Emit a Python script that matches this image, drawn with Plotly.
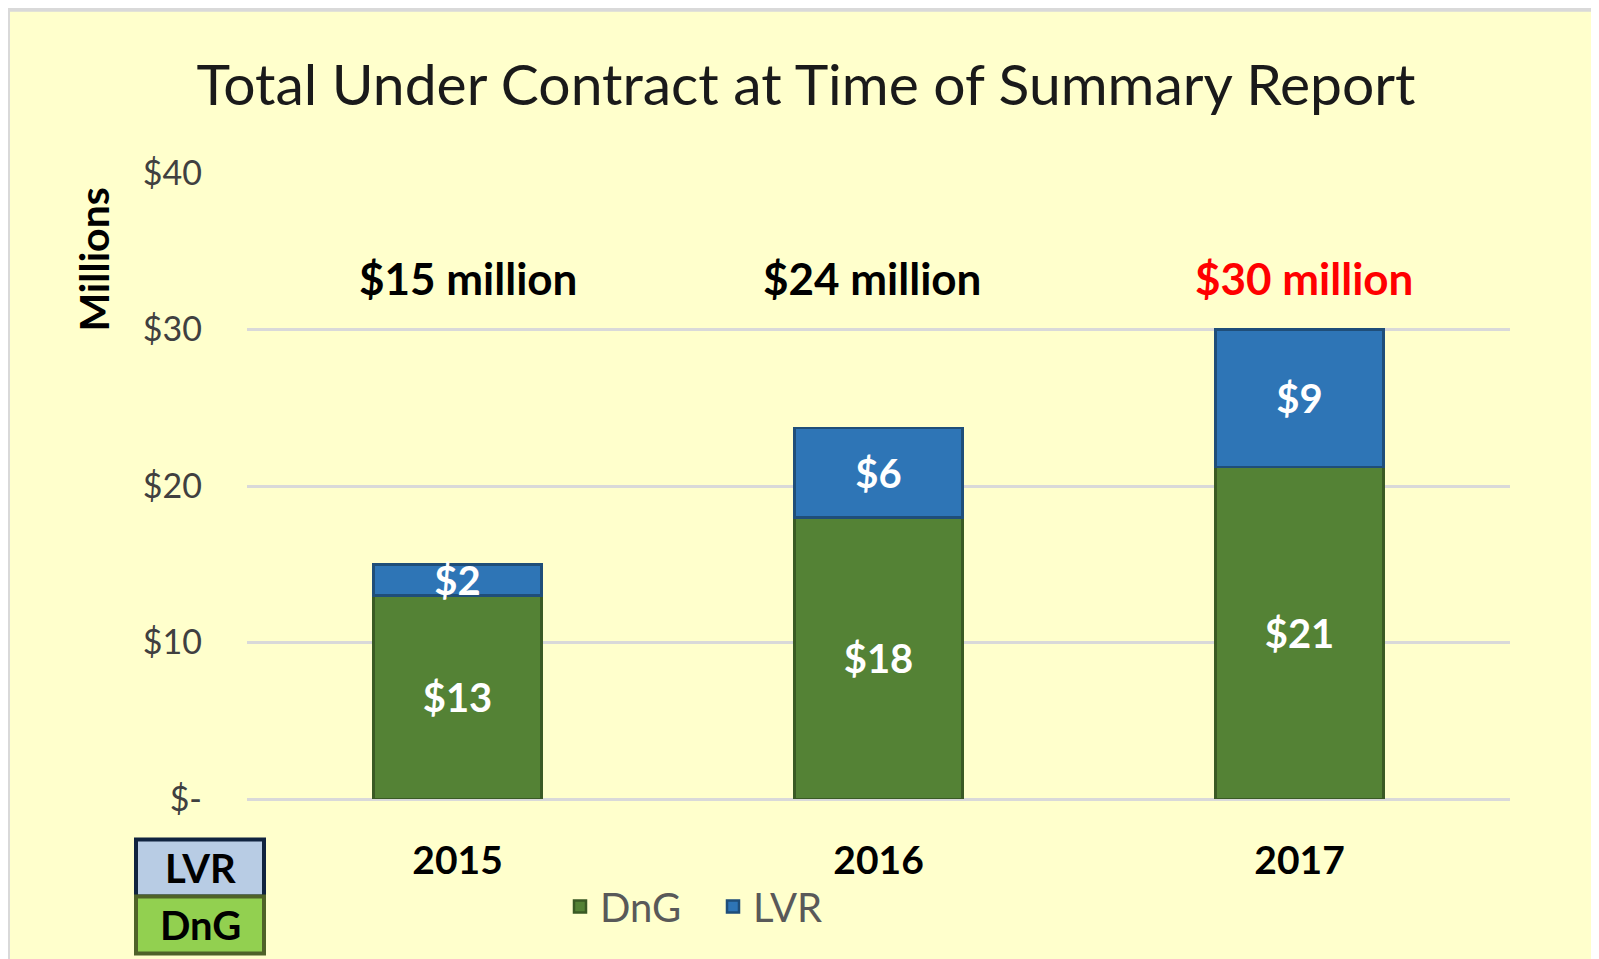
import plotly.graph_objects as go

years = ["2015", "2016", "2017"]
dng = [13.0, 18.0, 21.2]
lvr = [2.0, 5.7, 8.8]
ytick_vals = [0, 10, 20, 30, 40]
ytick_text = ["$-", "$10", "$20", "$30", "$40"]

# page body has an 8px margin; figure sized to fit the window
OFF = 8
W_PX, H_PX = 1599 - OFF, 959 - OFF
# plot area in page pixels
PL, PR, PT, PB = 247, 1510, 173.4, 799.5
L = PL - OFF
T = PT - OFF
R = W_PX - (PR - OFF)
B = H_PX - (PB - OFF)
PW = PR - PL
PH = PB - PT


def px(x):
    return (x - PL) / PW


def py(y):
    return (PB - y) / PH


FONT = "Lato"
GREEN = "#548235"
BLUE = "#2E75B6"

fig = go.Figure()
fig.add_trace(go.Bar(
    x=years, y=dng, name="DnG",
    marker=dict(color=GREEN, line=dict(color="#3A5A24", width=2.5)),
    texttemplate="$%{y:.0f}", textposition="inside", insidetextanchor="middle",
    textangle=0,
    textfont=dict(family=FONT, size=40, color="white", weight="bold"),
))
fig.add_trace(go.Bar(
    x=years, y=lvr, name="LVR",
    marker=dict(color=BLUE, line=dict(color="#1F4E79", width=2.5)),
    texttemplate="$%{y:.0f}", textposition="inside", insidetextanchor="middle",
    textangle=0,
    textfont=dict(family=FONT, size=40, color="white", weight="bold"),
))

totals = [a + b for a, b in zip(dng, lvr)]
label_shift = [10, -7, 4]
for i, tot in enumerate(totals):
    fig.add_annotation(
        x=i, y=33.3, xref="x", yref="y", xshift=label_shift[i],
        text=f"${tot:.0f} million", showarrow=False,
        xanchor="center", yanchor="middle",
        font=dict(family=FONT, size=44, weight="bold",
                  color="#FF0000" if i == len(totals) - 1 else "#000000"),
    )

# panel background with border
fig.add_shape(type="rect", xref="paper", yref="paper",
              x0=px(8), x1=px(1640), y0=py(10), y1=py(1000),
              fillcolor="#FFFFCC", line=dict(color="#D9D9D9", width=4),
              layer="below")

# LVR / DnG label boxes
fig.add_shape(type="rect", xref="paper", yref="paper",
              x0=px(136), x1=px(264), y0=py(897), y1=py(840),
              fillcolor="#B8CCE4", line=dict(color="#10233F", width=4))
fig.add_shape(type="rect", xref="paper", yref="paper",
              x0=px(136), x1=px(264), y0=py(954), y1=py(897),
              fillcolor="#92D050", line=dict(color="#4F6228", width=4))
fig.add_annotation(x=px(200), y=py(869), xref="paper", yref="paper",
                   text="LVR", showarrow=False, xanchor="center", yanchor="middle",
                   font=dict(family=FONT, size=40, weight="bold", color="#000000"))
fig.add_annotation(x=px(200), y=py(926), xref="paper", yref="paper",
                   text="DnG", showarrow=False, xanchor="center", yanchor="middle",
                   font=dict(family=FONT, size=40, weight="bold", color="#000000"))

# y-axis title
fig.add_annotation(x=px(94), y=py(260), xref="paper", yref="paper",
                   text="Millions", showarrow=False, textangle=-90,
                   xanchor="center", yanchor="middle",
                   font=dict(family=FONT, size=41, weight="bold", color="#000000"))

fig.update_layout(
    width=W_PX, height=H_PX,
    margin=dict(l=L, r=R, t=T, b=B, autoexpand=False),
    paper_bgcolor="white", plot_bgcolor="rgba(0,0,0,0)",
    barmode="stack", bargap=0.6,
    uniformtext=dict(minsize=40, mode="show"),
    title=dict(text="Total Under Contract at Time of Summary Report",
               x=(806 - OFF) / W_PX, xanchor="center",
               y=1 - (85 - OFF) / H_PX, yanchor="middle",
               font=dict(family=FONT, size=57, color="#1A1A1A")),
    showlegend=True,
    legend=dict(orientation="h", x=px(713), xanchor="center",
                y=py(907), yanchor="middle", traceorder="normal",
                font=dict(family=FONT, size=40, color="#595959"),
                bgcolor="rgba(0,0,0,0)", itemwidth=30,
                entrywidth=108, entrywidthmode="pixels"),
    font=dict(family=FONT),
)
fig.update_xaxes(
    type="category", range=[-0.5, 2.5], showgrid=False, showline=False, ticks="",
    tickfont=dict(family=FONT, size=39, color="#000000", weight="bold"),
    ticklabelstandoff=35,
)
fig.update_yaxes(
    range=[0, 40], tickvals=ytick_vals, ticktext=ytick_text,
    showgrid=True, gridcolor="#D9D9D9", gridwidth=3,
    zeroline=True, zerolinecolor="#D9D9D9", zerolinewidth=3,
    showline=False, ticks="",
    tickfont=dict(family=FONT, size=34, color="#404040"),
    ticklabelstandoff=44,
)

fig.write_html("out.html")
